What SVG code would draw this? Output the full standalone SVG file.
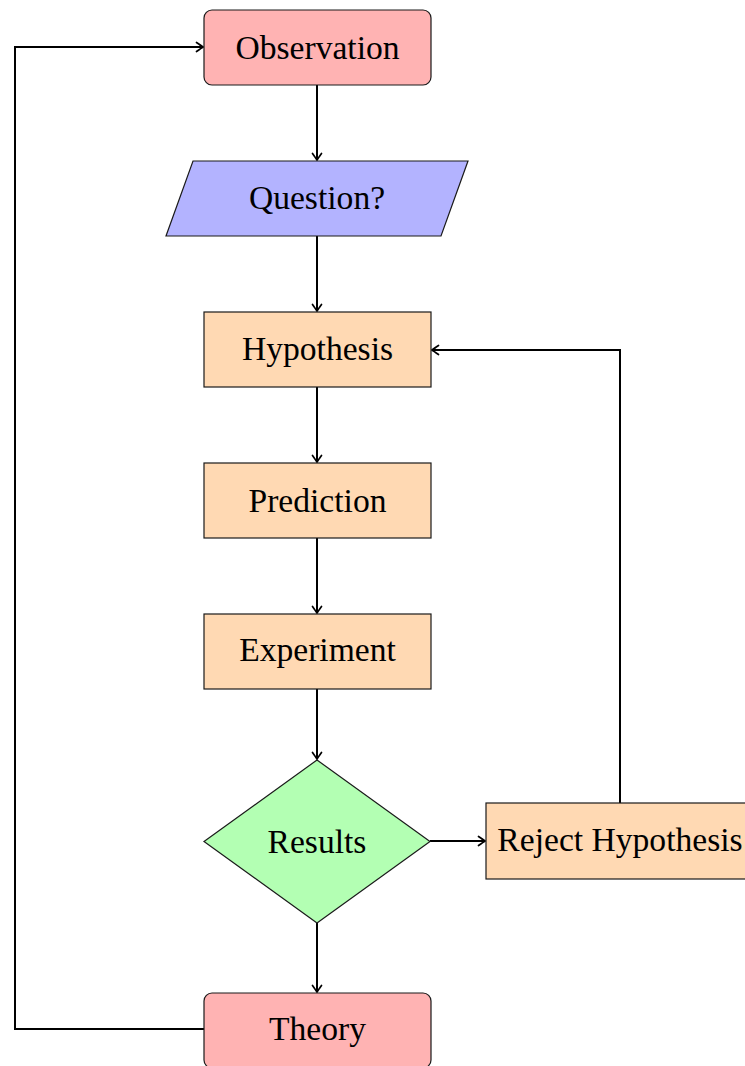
<svg xmlns="http://www.w3.org/2000/svg" width="745" height="1066" viewBox="0 0 745 1066">
<style>
.nd{stroke:#1a1a1a;stroke-width:1.2}
.red{fill:#ffb3b3}
.blue{fill:#b3b3ff}
.org{fill:#ffd9b3}
.grn{fill:#b3ffb3}
.t{font-family:"Liberation Serif","Times New Roman",serif;font-size:33.6px;fill:#000;text-anchor:middle}
.c{fill:none;stroke:#000;stroke-width:2}
</style>
<defs>
<marker id="ar" markerWidth="12" markerHeight="12" refX="0" refY="0" viewBox="-8 -6 10 12" orient="auto" markerUnits="userSpaceOnUse">
<path d="M-6.5,-4.5 Q-1.5,-1 0,0 Q-1.5,1 -6.5,4.5" fill="none" stroke="#000" stroke-width="1.7" stroke-linecap="round"/>
</marker>
</defs>
<g id="connectors">
<path class="c" d="M317,85 V160" marker-end="url(#ar)"/>
<path class="c" d="M317,236 V311" marker-end="url(#ar)"/>
<path class="c" d="M317,387 V462" marker-end="url(#ar)"/>
<path class="c" d="M317,538 V613" marker-end="url(#ar)"/>
<path class="c" d="M317,689 V759" marker-end="url(#ar)"/>
<path class="c" d="M317,923 V992" marker-end="url(#ar)"/>
<path class="c" d="M430,841 H485" marker-end="url(#ar)"/>
<path class="c" d="M620,803 V350 H432" marker-end="url(#ar)"/>
<path class="c" d="M204,1029 H15 V47 H203" marker-end="url(#ar)"/>
</g>
<g id="observation">
<rect class="nd red" x="204" y="10" width="227" height="75" rx="8"/>
<text class="t" x="317.5" y="59">Observation</text>
</g>
<g id="question">
<polygon class="nd blue" points="193,161 468,161 441,236 166,236"/>
<text class="t" x="317" y="209">Question?</text>
</g>
<g id="hypothesis">
<rect class="nd org" x="204" y="312" width="227" height="75"/>
<text class="t" x="317.5" y="360">Hypothesis</text>
</g>
<g id="prediction">
<rect class="nd org" x="204" y="463" width="227" height="75"/>
<text class="t" x="317.5" y="512">Prediction</text>
</g>
<g id="experiment">
<rect class="nd org" x="204" y="614" width="227" height="75"/>
<text class="t" x="317.5" y="661">Experiment</text>
</g>
<g id="results">
<polygon class="nd grn" points="317,760 430,841.5 317,923 204,841.5"/>
<text class="t" x="317" y="853">Results</text>
</g>
<g id="reject">
<rect class="nd org" x="486" y="803" width="268" height="76"/>
<text class="t" x="620" y="851">Reject Hypothesis</text>
</g>
<g id="theory">
<rect class="nd red" x="204" y="993" width="227" height="75" rx="8"/>
<text class="t" x="317.5" y="1040">Theory</text>
</g>
</svg>
